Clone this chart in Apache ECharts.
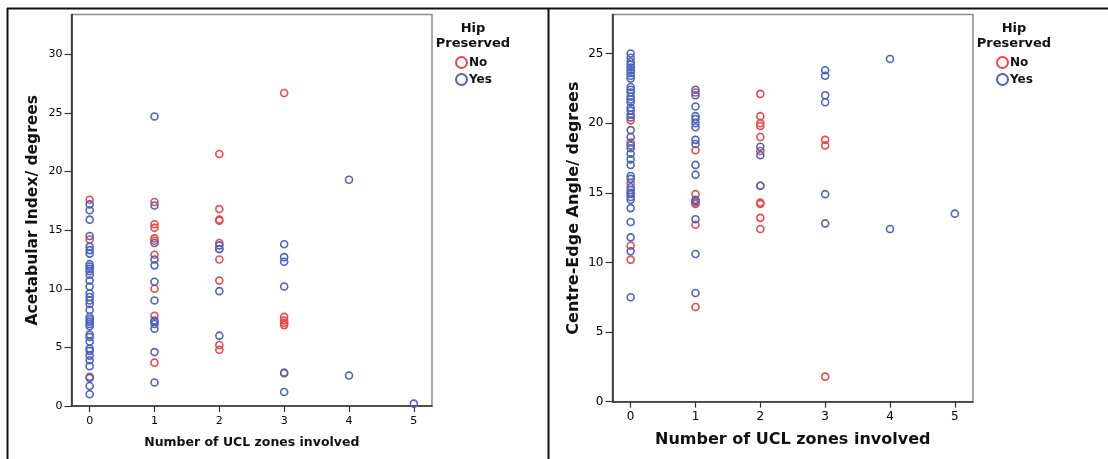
<!DOCTYPE html>
<html>
<head>
<meta charset="utf-8">
<script src="https://cdn.jsdelivr.net/npm/echarts@6/dist/echarts.min.js"></script>
<style>
  html, body { margin: 0; padding: 0; background: #fff; }
  #chart { width: 1108px; height: 459px; }
</style>
</head>
<body>
<div id="chart"></div>
<script>
// UCL zone counts on the x axis
const zones = [0, 1, 2, 3, 4, 5];
const zoneTicks = [0, 1, 2, 3, 4, 5];
const aiTicks = [0, 5, 10, 15, 20, 25, 30];
const ceTicks = [0, 5, 10, 15, 20, 25];

// Acetabular index (degrees), one list per zone count
const aiNo = [
  [17.6, 14.2, 2.5],
  [17.4, 15.5, 15.2, 14.3, 14.1, 12.9, 10.0, 7.7, 3.7],
  [21.5, 16.8, 15.9, 15.8, 13.9, 13.4, 12.5, 10.7, 5.2, 4.8],
  [26.7, 7.6, 7.3, 7.1, 6.9, 2.85],
  [],
  []
];
const aiYes = [
  [17.2, 16.7, 15.9, 14.5, 13.6, 13.3, 13.0, 12.1, 11.9, 11.7, 11.5, 11.2, 10.7, 10.2,
   9.6, 9.3, 9.0, 8.7, 8.2, 7.6, 7.4, 7.2, 7.0, 6.8, 6.1, 5.9, 5.5, 4.9, 4.7, 4.3,
   3.9, 3.4, 2.4, 1.7, 1.0],
  [24.7, 17.1, 13.9, 12.5, 12.0, 10.6, 9.0, 7.3, 7.2, 7.0, 6.6, 4.6, 2.0],
  [13.7, 13.4, 9.8, 6.0],
  [13.8, 12.7, 12.3, 10.2, 2.8, 1.2],
  [19.3, 2.6],
  [0.2]
];

// Centre-edge angle (degrees), one list per zone count
const ceNo = [
  [20.2, 18.6, 15.7, 14.9, 11.2, 10.2],
  [22.2, 18.05, 14.9, 14.3, 14.2, 12.7, 6.8],
  [22.1, 20.5, 20.0, 19.8, 19.0, 18.0, 15.5, 14.3, 14.2, 13.2, 12.4],
  [18.8, 18.4, 1.8],
  [],
  []
];
const ceYes = [
  [25.0, 24.7, 24.4, 24.2, 24.0, 23.8, 23.6, 23.4, 23.2, 22.6, 22.4, 22.2, 21.9, 21.7,
   21.5, 21.1, 20.9, 20.6, 20.4, 19.5, 19.0, 18.4, 18.2, 17.8, 17.4, 17.0, 16.2, 16.0,
   15.4, 15.2, 15.0, 14.7, 14.5, 13.9, 12.9, 11.8, 10.8, 7.5],
  [22.4, 22.0, 21.2, 20.5, 20.3, 20.0, 19.7, 18.8, 18.5, 17.0, 16.3, 14.5, 14.4, 13.1, 10.6, 7.8],
  [18.3, 17.7, 15.5],
  [23.8, 23.4, 22.0, 21.5, 14.9, 12.8],
  [24.6, 12.4],
  [13.5]
];

const groupNames = ['No', 'Yes'];
const RED = '#ee4848';
const BLUE = '#4a64c0';
const FONT = 'DejaVu Sans';

function toPoints(byZone) {
  const pts = [];
  byZone.forEach((vals, i) => vals.forEach(v => pts.push([zones[i], v])));
  return pts;
}

function scatter(name, color, idx, byZone) {
  return {
    name: name,
    type: 'scatter',
    xAxisIndex: idx,
    yAxisIndex: idx,
    symbol: 'circle',
    symbolSize: 7,
    itemStyle: { color: 'rgba(0,0,0,0)', borderColor: color, borderWidth: 1.6, opacity: 1 },
    emphasis: { disabled: true },
    data: toPoints(byZone)
  };
}

function xAxis(idx, nameSize, nameGap, labelSize, labelMargin) {
  return {
    type: 'value',
    gridIndex: idx,
    min: -0.28,
    max: 5.28,
    name: 'Number of UCL zones involved',
    nameLocation: 'middle',
    nameGap: nameGap,
    nameTextStyle: { fontFamily: FONT, fontWeight: 'bold', fontSize: nameSize, color: '#111' },
    splitLine: { show: false },
    axisLine: { show: true, onZero: false, lineStyle: { color: '#333', width: 1.5 } },
    axisTick: { show: true, length: 6, customValues: zoneTicks, lineStyle: { color: '#333', width: 1.2 } },
    axisLabel: { customValues: zoneTicks, fontFamily: FONT, fontSize: labelSize, color: '#000', margin: labelMargin }
  };
}

function yAxis(idx, name, max, ticks, nameSize, nameGap, labelSize) {
  return {
    type: 'value',
    gridIndex: idx,
    min: 0,
    max: max,
    name: name,
    nameLocation: 'middle',
    nameGap: nameGap,
    nameTextStyle: { fontFamily: FONT, fontWeight: 'bold', fontSize: nameSize, color: '#111' },
    splitLine: { show: false },
    axisLine: { show: true, onZero: false, lineStyle: { color: '#222', width: 1.5 } },
    axisTick: { show: true, length: 7, customValues: ticks, lineStyle: { color: '#333', width: 1.2 } },
    axisLabel: { customValues: ticks, fontFamily: FONT, fontSize: labelSize, color: '#000', margin: 9 }
  };
}

function legendTitle(cx) {
  return {
    text: 'Hip\nPreserved',
    left: cx,
    top: 21,
    textAlign: 'center',
    padding: 0,
    textStyle: { fontFamily: FONT, fontWeight: 'bold', fontSize: 13, lineHeight: 15, color: '#111' }
  };
}

function legend(left) {
  return {
    data: groupNames,
    orient: 'vertical',
    left: left,
    top: 56,
    padding: 0,
    itemWidth: 11,
    itemHeight: 11,
    itemGap: 4,
    selectedMode: false,
    textStyle: { fontFamily: FONT, fontWeight: 'bold', fontSize: 12, color: '#111', padding: [0, 0, 0, -3] }
  };
}

const chart = echarts.init(document.getElementById('chart'), null, { renderer: 'canvas' });

chart.setOption({
  backgroundColor: '#fff',
  animation: false,
  title: [legendTitle(473), legendTitle(1014)],
  legend: [legend(455), legend(996)],
  grid: [
    { left: 71.5, top: 14.5, width: 360.5, height: 391.5, show: true, borderColor: '#8a8a8a', borderWidth: 1.5 },
    { left: 612.5, top: 14.5, width: 360.5, height: 387.2, show: true, borderColor: '#8a8a8a', borderWidth: 1.5 }
  ],
  xAxis: [xAxis(0, 12.5, 30, 11, 10), xAxis(1, 16, 30.5, 12, 9)],
  yAxis: [
    yAxis(0, 'Acetabular Index/ degrees', 33.4, aiTicks, 15.5, 31, 11),
    yAxis(1, 'Centre-Edge Angle/ degrees', 27.8, ceTicks, 16, 31, 12)
  ],
  series: [
    scatter('No', RED, 0, aiNo),
    scatter('Yes', BLUE, 0, aiYes),
    scatter('No', RED, 1, ceNo),
    scatter('Yes', BLUE, 1, ceYes)
  ],
  graphic: [
    { type: 'line', shape: { x1: 7, y1: 8.5, x2: 1108, y2: 8.5 }, style: { stroke: '#111', lineWidth: 2 }, silent: true },
    { type: 'line', shape: { x1: 7.5, y1: 8, x2: 7.5, y2: 459 }, style: { stroke: '#111', lineWidth: 2 }, silent: true },
    { type: 'line', shape: { x1: 548.5, y1: 8, x2: 548.5, y2: 459 }, style: { stroke: '#111', lineWidth: 2 }, silent: true }
  ]
});
</script>
</body>
</html>
